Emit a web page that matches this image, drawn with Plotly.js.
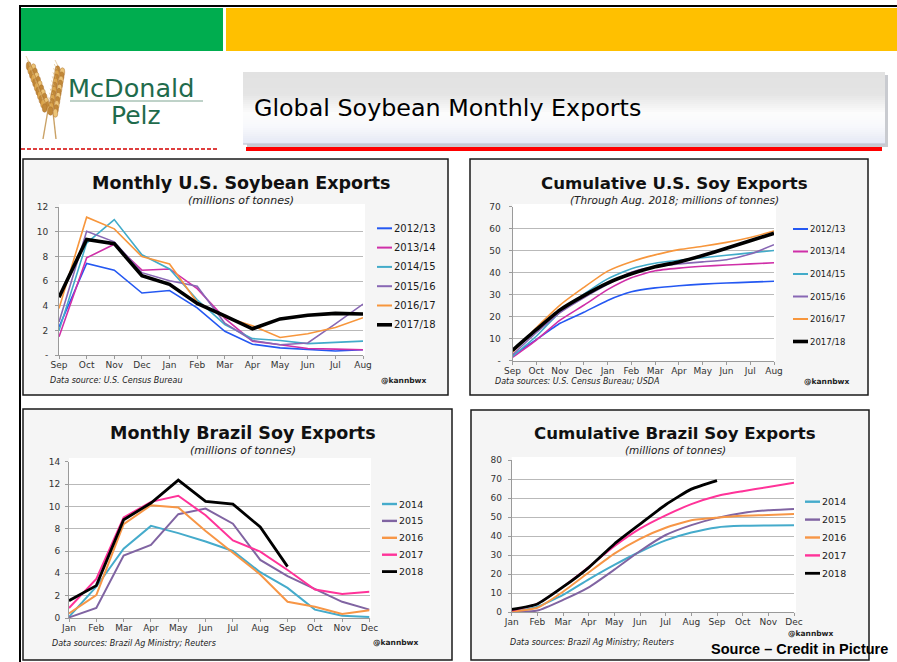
<!DOCTYPE html>
<html><head><meta charset="utf-8">
<script src="https://cdn.plot.ly/plotly-3.0.1.min.js"></script>
<style>html,body{margin:0;padding:0;background:#fff;overflow:hidden}#chart{width:897px;height:662px;}</style>
</head><body><div id="chart"></div>
<script>
// ---------- DATA ----------
const monthsUS = ['Sep','Oct','Nov','Dec','Jan','Feb','Mar','Apr','May','Jun','Jul','Aug'];
const monthsBR = ['Jan','Feb','Mar','Apr','May','Jun','Jul','Aug','Sep','Oct','Nov','Dec'];
const usSeasons = ['2012/13','2013/14','2014/15','2015/16','2016/17','2017/18'];
const brYears = ['2014','2015','2016','2017','2018'];

// Monthly U.S. soybean exports (million tonnes)
const usMon1213 = [2.3, 7.45, 6.9, 5.05, 5.25, 3.85, 1.95, 0.9, 0.6, 0.5, 0.35, 0.45];
const usMon1314 = [1.5, 7.9, 9.0, 6.9, 7.0, 5.4, 3.0, 1.15, 0.85, 0.55, 0.5, 0.45];
const usMon1415 = [2.0, 9.1, 11.0, 8.15, 7.0, 4.5, 2.5, 1.35, 1.2, 0.95, 1.05, 1.15];
const usMon1516 = [2.7, 10.05, 9.2, 6.7, 6.05, 5.6, 2.6, 1.2, 0.85, 1.0, 2.55, 4.15];
const usMon1617 = [3.8, 11.2, 10.25, 8.0, 7.4, 4.3, 3.1, 2.4, 1.45, 1.75, 2.25, 3.05];
const usMon1718 = [4.7, 9.4, 9.05, 6.45, 5.75, 4.2, 3.2, 2.15, 2.95, 3.25, 3.4, 3.35];

// Cumulative U.S. soy exports (million tonnes)
const usCum1213 = [2.3, 9.6, 17.0, 22.0, 27.4, 31.3, 33.1, 34.1, 34.8, 35.3, 35.7, 36.1];
const usCum1314 = [1.5, 9.4, 18.4, 25.2, 32.3, 37.7, 40.9, 42.1, 42.9, 43.5, 44.0, 44.5];
const usCum1415 = [2.0, 11.1, 22.1, 30.2, 37.2, 41.8, 44.3, 45.6, 46.8, 47.9, 49.0, 50.1];
const usCum1516 = [2.7, 12.7, 21.9, 28.6, 34.7, 40.2, 42.8, 44.0, 44.9, 45.9, 48.5, 52.7];
const usCum1617 = [3.8, 15.0, 25.3, 33.3, 40.7, 45.0, 48.1, 50.5, 52.0, 53.8, 56.0, 59.0];
const usCum1718 = [4.7, 14.1, 23.1, 29.6, 35.3, 39.5, 42.7, 44.9, 47.8, 51.1, 54.5, 57.9];

// Monthly Brazil soy exports (million tonnes)
const brMon2014 = [0.1, 2.8, 6.2, 8.25, 7.6, 6.85, 6.0, 4.1, 2.7, 0.75, 0.2, 0.1];
const brMon2015 = [0.05, 0.9, 5.6, 6.55, 9.3, 9.8, 8.45, 5.2, 3.75, 2.6, 1.45, 0.75];
const brMon2016 = [0.4, 2.05, 8.4, 10.1, 9.9, 7.8, 5.85, 3.9, 1.45, 1.0, 0.35, 0.7];
const brMon2017 = [0.9, 3.5, 9.0, 10.4, 10.95, 9.2, 6.95, 5.95, 4.3, 2.55, 2.15, 2.35];
const brMon2018 = [1.55, 2.9, 8.8, 10.3, 12.35, 10.45, 10.2, 8.15, 4.6];

// Cumulative Brazil soy exports (million tonnes)
const brCum2014 = [0.1, 2.9, 9.1, 17.3, 24.9, 31.8, 37.8, 41.9, 44.6, 45.4, 45.6, 45.7];
const brCum2015 = [0.05, 0.9, 6.5, 13.1, 22.4, 32.2, 40.6, 45.8, 49.6, 52.2, 53.6, 54.3];
const brCum2016 = [0.4, 2.4, 10.8, 20.9, 30.8, 38.6, 44.4, 48.3, 49.7, 50.7, 51.1, 51.7];
const brCum2017 = [0.9, 4.4, 13.4, 23.8, 34.7, 43.9, 50.9, 56.8, 61.1, 63.6, 65.8, 68.1];
const brCum2018 = [1.5, 4.4, 13.3, 23.5, 35.9, 46.3, 56.5, 64.7, 69.2];

const usColors = ['#2458f2','#cf2fa8','#42abc9','#8867b4','#f7963c','#000000'];
const brColors = ['#45abcb','#8064a2','#f79646','#ff3399','#000000'];

// ---------- HELPERS ----------
const W = 897, H = 662;
const px = v => v / W;
const py = v => 1 - v / H;
const shapes = [];
const annotations = [];
function rect(x0, y0, x1, y1, fill, lc, lw, layer) {
  shapes.push({type:'rect', xref:'paper', yref:'paper', x0:px(x0), x1:px(x1), y0:py(y1), y1:py(y0),
    fillcolor:fill, line:{color:lc || 'rgba(0,0,0,0)', width:lw || 0}, layer:layer || 'below'});
}
function seg(x0, y0, x1, y1, color, width, dash, layer) {
  shapes.push({type:'line', xref:'paper', yref:'paper', x0:px(x0), x1:px(x1), y0:py(y0), y1:py(y1),
    line:{color:color, width:width, dash:dash || 'solid'}, layer:layer || 'below'});
}
function oval(cx, cy, rx, ry, fill, lc) {
  shapes.push({type:'circle', xref:'paper', yref:'paper', x0:px(cx - rx), x1:px(cx + rx), y0:py(cy + ry), y1:py(cy - ry),
    fillcolor:fill, line:{color:lc, width:0.5}, layer:'above'});
}
function ann(text, x, y, size, opts) {
  opts = opts || {};
  annotations.push({text:text, xref:'paper', yref:'paper', x:px(x), y:py(y), showarrow:false,
    xanchor:opts.xa || 'center', yanchor:opts.ya || 'middle', borderpad:0,
    font:{family:opts.family || 'DejaVu Sans', size:size, color:opts.color || '#111',
      weight:opts.weight || 'normal', style:opts.style || 'normal'}});
}

// ---------- PAGE DECORATION ----------
rect(19, 5, 897, 7, '#000');
rect(19, 5, 21, 662, '#000');
rect(21, 8, 223, 51, '#00ad4f');
rect(226, 8, 897, 51, '#ffc000');

// wheat logo
function ear(x0, y0, x1, y1, n) {
  for (let i = 0; i < n; i++) {
    const t = i / (n - 1);
    const cx = x0 + (x1 - x0) * t, cy = y0 + (y1 - y0) * t;
    seg(cx, cy, cx - 5, cy - 10, '#d9b577', 0.6, 'solid', 'above');
    oval(cx - 2.4, cy, 2.3, 4.2, i % 2 ? '#dca64c' : '#c18838', '#a86f2c');
    oval(cx + 2.4, cy + 2, 2.3, 4.2, i % 2 ? '#c18838' : '#ecc477', '#a86f2c');
  }
}
seg(48, 110, 43, 139, '#caa266', 1.4, 'solid', 'above');
seg(53, 112, 56, 139, '#caa266', 1.4, 'solid', 'above');
ear(31, 66, 47, 108, 11);
ear(60, 70, 53, 111, 11);

ann('McDonald', 67, 88, 25.5, {xa:'left', color:'#1f6b4c', family:'DejaVu Sans'});
seg(70, 101, 203, 101, '#7fa592', 1);
ann('Pelz', 136, 115, 25, {color:'#1f6b4c', family:'DejaVu Sans'});
seg(21, 149, 218, 149, '#d40000', 1.5, '4px,2px');

// title box with gradient bands and shadow
rect(247, 75, 888, 147, '#c9cbd0');
const bandStops = [[72,[226,226,226]],[93,[228,228,228]],[112,[252,252,252]],[125,[248,249,252]],[144,[228,232,244]]];
function bandColor(y) {
  for (let i = 0; i < bandStops.length - 1; i++) {
    const [ya, ca] = bandStops[i], [yb, cb] = bandStops[i + 1];
    if (y >= ya && y <= yb) {
      const f = (y - ya) / (yb - ya);
      return 'rgb(' + ca.map((c, k) => Math.round(c + (cb[k] - c) * f)).join(',') + ')';
    }
  }
  return 'rgb(228,232,244)';
}
for (let y = 72; y < 144; y += 2) rect(243, y, 885, y + 2.2, bandColor(y));
seg(243, 144, 885, 144, '#b8bccb', 1);
ann('Global Soybean Monthly Exports', 253, 108, 23.8, {xa:'left', color:'#000', family:'DejaVu Sans'});
rect(246, 147, 882, 151, '#ff0000');

// ---------- CHART PANELS ----------
const charts = [
  {panel:[23,159,448,395], plot:[59,204,365,355.3], xd:[59,363], yd:[207.3,355.3], cats:monthsUS,
   yr:[0,12], tv:[0,2,4,6,8,10,12], tt:['-','2','4','6','8','10','12'],
   series:[usMon1213,usMon1314,usMon1415,usMon1516,usMon1617,usMon1718], names:usSeasons, colors:usColors,
   thin:1.6, thick:3.6, shape:'linear',
   title:'Monthly U.S. Soybean Exports', tx:241, ty:183.3, ts:17.5, sub:'(millions of tonnes)', sy:200.3, ss:11,
   lx:377, ly:228.3, ldy:19.3, ls:10,
   src:'Data source: U.S. Census Bureau', srcx:49, srcy:380, hx:428, hy:380, ylstand:5},
  {panel:[470,159,868,395], plot:[512.5,204,776,360.7], xd:[512.5,774], yd:[206.7,360.7], cats:monthsUS,
   yr:[0,70], tv:[0,10,20,30,40,50,60,70], tt:['-','10','20','30','40','50','60','70'],
   series:[usCum1213,usCum1314,usCum1415,usCum1516,usCum1617,usCum1718], names:usSeasons, colors:usColors,
   thin:1.6, thick:3.6, shape:'spline',
   title:'Cumulative U.S. Soy Exports', tx:674, ty:183.5, ts:16.6, sub:'(Through Aug. 2018; millions of tonnes)', sy:200, ss:10.5,
   lx:793, ly:229, ldy:22.5, ls:8.5,
   src:'Data sources: U.S. Census Bureau; USDA', srcx:494, srcy:381, hx:851, hy:381, ylstand:6},
  {panel:[23,409,452,660], plot:[69,458,371,618], xd:[69,369.5], yd:[461.7,618], cats:monthsBR,
   yr:[0,14], tv:[0,2,4,6,8,10,12,14], tt:['0','2','4','6','8','10','12','14'],
   series:[brMon2014,brMon2015,brMon2016,brMon2017,brMon2018], names:brYears, colors:brColors,
   thin:2, thick:2.8, shape:'linear',
   title:'Monthly Brazil Soy Exports', tx:243, ty:433.3, ts:17.5, sub:'(millions of tonnes)', sy:450.3, ss:11,
   lx:382, ly:504, ldy:16.9, ls:9.5,
   src:'Data sources: Brazil Ag Ministry; Reuters', srcx:51, srcy:643, hx:420, hy:642, ylstand:3},
  {panel:[471,410,869,660], plot:[511.7,457,796,612.3], xd:[511.7,794], yd:[460,612.3], cats:monthsBR,
   yr:[0,80], tv:[0,10,20,30,40,50,60,70,80], tt:['0','10','20','30','40','50','60','70','80'],
   series:[brCum2014,brCum2015,brCum2016,brCum2017,brCum2018], names:brYears, colors:brColors,
   thin:2, thick:2.8, shape:'spline',
   title:'Cumulative Brazil Soy Exports', tx:675, ty:433.5, ts:16.6, sub:'(millions of tonnes)', sy:450, ss:10.5,
   lx:805, ly:501.7, ldy:17.9, ls:9.5,
   src:'Data sources: Brazil Ag Ministry; Reuters', srcx:509, srcy:642, hx:835, hy:633.5, ylstand:4}
];

const data = [];
const layout = {
  width:W, height:H, margin:{l:0, r:0, t:0, b:0}, paper_bgcolor:'#ffffff', plot_bgcolor:'rgba(0,0,0,0)',
  showlegend:false, hovermode:false, font:{family:'DejaVu Sans'}
};

charts.forEach((c, i) => {
  const n = i === 0 ? '' : String(i + 1);
  const [a, b, cc, d] = c.panel;
  rect(a, b, cc, d, '#f5f5f5', '#1a1a1a', 1.5);
  const [p0, p1, p2, p3] = c.plot;
  rect(p0, p1, p2, p3, '#ffffff');
  layout['xaxis' + n] = {
    domain:[px(c.xd[0]), px(c.xd[1])], anchor:'y' + n, type:'category', range:[0, c.cats.length - 1],
    tickmode:'array', tickvals:c.cats, ticktext:c.cats, ticks:'outside', ticklen:3, tickcolor:'#9a9a9a',
    showline:true, linecolor:'#9a9a9a', linewidth:1, showgrid:false, zeroline:false, fixedrange:true,
    ticklabelstandoff:-2,
    tickfont:{family:'DejaVu Sans', size:9, color:'#333'}
  };
  layout['yaxis' + n] = {
    domain:[py(c.yd[1]), py(c.yd[0])], anchor:'x' + n, range:c.yr, tickmode:'array', tickvals:c.tv, ticktext:c.tt,
    ticks:'outside', ticklen:3, tickcolor:'#9a9a9a', showline:true, linecolor:'#9a9a9a', linewidth:1,
    showgrid:true, gridcolor:'#b9b9b9', gridwidth:1, zeroline:false, fixedrange:true, ticklabelstandoff:c.ylstand,
    tickfont:{family:'DejaVu Sans', size:9, color:'#333'}
  };
  c.series.forEach((s, k) => {
    const isLast = k === c.series.length - 1;
    data.push({type:'scatter', mode:'lines', name:c.names[k], x:c.cats.slice(0, s.length), y:s,
      xaxis:'x' + n, yaxis:'y' + n, hoverinfo:'skip',
      line:{color:c.colors[k], width:isLast ? c.thick : c.thin, shape:c.shape, smoothing:0.5}});
    const yy = c.ly + k * c.ldy;
    seg(c.lx, yy, c.lx + 15, yy, c.colors[k], isLast ? c.thick : c.thin + 0.4, 'solid', 'above');
    ann(c.names[k], c.lx + 16, yy, c.ls, {xa:'left', color:'#1a1a1a'});
  });
  ann('<b>' + c.title + '</b>', c.tx, c.ty, c.ts, {color:'#111'});
  ann('<i>' + c.sub + '</i>', c.tx, c.sy, c.ss, {color:'#222'});
  ann('<i>' + c.src + '</i>', c.srcx, c.srcy, 8, {xa:'left', color:'#222'});
  ann('<b>@kannbwx</b>', c.hx, c.hy, 7.5, {xa:'right', color:'#222'});
});

ann('<b>Source – Credit in Picture</b>', 889, 649, 14.5, {xa:'right', family:'Liberation Sans, Arial', color:'#000'});

layout.shapes = shapes;
layout.annotations = annotations;
Plotly.newPlot('chart', data, layout, {staticPlot:true, displayModeBar:false});
</script>
</body></html>
